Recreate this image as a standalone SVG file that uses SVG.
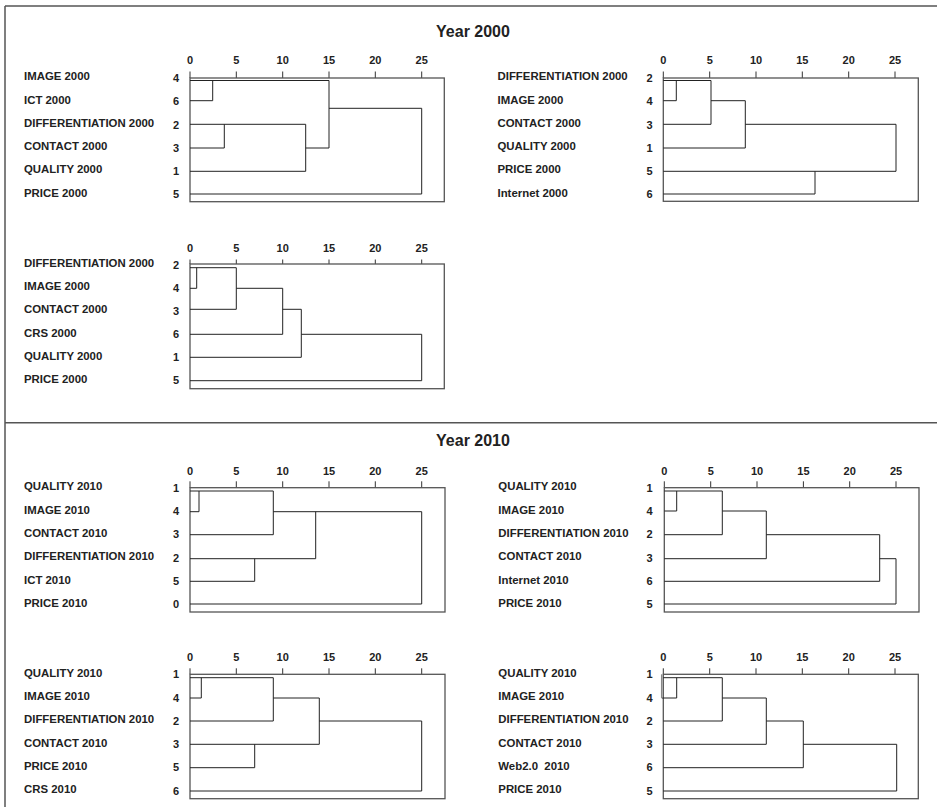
<svg xmlns="http://www.w3.org/2000/svg" width="937" height="812" viewBox="0 0 937 812">
<style>
text{font-family:"Liberation Sans",Arial,sans-serif;font-weight:bold;fill:#222}
.lbl{font-size:11.4px}
.num{font-size:11px;text-anchor:middle}
.ax{font-size:11px;text-anchor:middle}
.ttl{font-size:16px;text-anchor:middle}
.ln{stroke:#222;stroke-width:1;fill:none}
.box{stroke:#555;stroke-width:1.3;fill:none}
.tk{stroke:#333;stroke-width:1;fill:none}
.frame{stroke:#555;stroke-width:1.5;fill:none}
</style>
<rect width="937" height="812" fill="#fff"/>
<g id="frame">
<path class="frame" d="M5,6 H937 M5,6 V807 M5,422.7 H937"/>
</g>
<text class="ttl" x="473" y="37">Year 2000</text>
<text class="ttl" x="473" y="446">Year 2010</text>

<!-- Dendrogram 1 -->
<g id="d1">
<g class="labels">
<text class="lbl" x="24" y="80">IMAGE 2000</text>
<text class="lbl" x="24" y="104">ICT 2000</text>
<text class="lbl" x="24" y="127">DIFFERENTIATION 2000</text>
<text class="lbl" x="24" y="150">CONTACT 2000</text>
<text class="lbl" x="24" y="173">QUALITY 2000</text>
<text class="lbl" x="24" y="197">PRICE 2000</text>
<text class="num" x="176" y="81.5">4</text>
<text class="num" x="176" y="105">6</text>
<text class="num" x="176" y="128.5">2</text>
<text class="num" x="176" y="151.5">3</text>
<text class="num" x="176" y="174.5">1</text>
<text class="num" x="176" y="198">5</text>
<text class="ax" x="190" y="64">0</text>
<text class="ax" x="236.3" y="64">5</text>
<text class="ax" x="282.7" y="64">10</text>
<text class="ax" x="329" y="64">15</text>
<text class="ax" x="375.3" y="64">20</text>
<text class="ax" x="421.7" y="64">25</text>
</g>
<path class="tk" d="M190,71.5V78 M236.3,71.5V78 M282.7,71.5V78 M329,71.5V78 M375.3,71.5V78 M421.7,71.5V78"/>
<rect class="box" x="190" y="78" width="254.3" height="123.7"/>
<g id="d1-links">
<path class="ln" d="M190,80.5H329 M190,100.7H212.7 M212.7,80.5V100.7 M190,124.3H305.7 M190,148H224.3 M224.3,124.3V148 M190,171.3H305.7 M305.7,124.3V171.3 M305.7,148H329 M329,80.5V148 M329,108.3H421.7 M190,194H421.7 M421.7,108.3V194"/>
</g>
</g>

<!-- Dendrogram 2 -->
<g id="d2">
<g class="labels">
<text class="lbl" x="497.5" y="80">DIFFERENTIATION 2000</text>
<text class="lbl" x="497.5" y="104">IMAGE 2000</text>
<text class="lbl" x="497.5" y="127">CONTACT 2000</text>
<text class="lbl" x="497.5" y="150">QUALITY 2000</text>
<text class="lbl" x="497.5" y="173">PRICE 2000</text>
<text class="lbl" x="497.5" y="197">Internet 2000</text>
<text class="num" x="649.5" y="81.5">2</text>
<text class="num" x="649.5" y="105">4</text>
<text class="num" x="649.5" y="128.5">3</text>
<text class="num" x="649.5" y="151.5">1</text>
<text class="num" x="649.5" y="174.5">5</text>
<text class="num" x="649.5" y="198">6</text>
<text class="ax" x="663.3" y="64">0</text>
<text class="ax" x="709.7" y="64">5</text>
<text class="ax" x="756" y="64">10</text>
<text class="ax" x="802.3" y="64">15</text>
<text class="ax" x="848.7" y="64">20</text>
<text class="ax" x="895" y="64">25</text>
</g>
<path class="tk" d="M663.3,71.5V78 M709.7,71.5V78 M756,71.5V78 M802.3,71.5V78 M848.7,71.5V78 M895,71.5V78"/>
<rect class="box" x="663.3" y="78" width="255" height="123.3"/>
<g id="d2-links">
<path class="ln" d="M663.3,80.5H711 M663.3,100.7H676.3 M676.3,80.5V100.7 M663.3,124.3H711 M711,80.5V124.3 M711,100.7H745.3 M663.3,148H745.3 M745.3,100.7V148 M745.3,124.3H896 M663.3,171.3H896 M896,124.3V171.3 M663.3,194H815 M815,171.3V194"/>
</g>
</g>

<!-- Dendrogram 3 -->
<g id="d3">
<g class="labels">
<text class="lbl" x="24" y="267.3">DIFFERENTIATION 2000</text>
<text class="lbl" x="24" y="290">IMAGE 2000</text>
<text class="lbl" x="24" y="313">CONTACT 2000</text>
<text class="lbl" x="24" y="336.7">CRS 2000</text>
<text class="lbl" x="24" y="359.7">QUALITY 2000</text>
<text class="lbl" x="24" y="382.7">PRICE 2000</text>
<text class="num" x="176" y="268.5">2</text>
<text class="num" x="176" y="291.5">4</text>
<text class="num" x="176" y="314.5">3</text>
<text class="num" x="176" y="338">6</text>
<text class="num" x="176" y="361">1</text>
<text class="num" x="176" y="384">5</text>
<text class="ax" x="190" y="252.3">0</text>
<text class="ax" x="236.3" y="252.3">5</text>
<text class="ax" x="282.7" y="252.3">10</text>
<text class="ax" x="329" y="252.3">15</text>
<text class="ax" x="375.3" y="252.3">20</text>
<text class="ax" x="421.7" y="252.3">25</text>
</g>
<path class="tk" d="M190,259.5V264 M236.3,259.5V264 M282.7,259.5V264 M329,259.5V264 M375.3,259.5V264 M421.7,259.5V264"/>
<rect class="box" x="190" y="264" width="254.3" height="124.7"/>
<g id="d3-links">
<path class="ln" d="M190,267.7H236.3 M196.7,267.7V288.3 M190,288.3H196.7 M236.3,267.7V309.3 M190,309.3H236.3 M236.3,288.3H282.7 M190,334.3H282.7 M282.7,288.3V334.3 M282.7,309.3H301.3 M190,357.3H301.3 M301.3,309.3V357.3 M301.3,334.3H421.7 M190,380.7H421.7 M421.7,334.3V380.7"/>
</g>
</g>

<!-- Dendrogram 4 -->
<g id="d4">
<g class="labels">
<text class="lbl" x="24" y="490">QUALITY 2010</text>
<text class="lbl" x="24" y="514">IMAGE 2010</text>
<text class="lbl" x="24" y="536.7">CONTACT 2010</text>
<text class="lbl" x="24" y="559.7">DIFFERENTIATION 2010</text>
<text class="lbl" x="24" y="584">ICT 2010</text>
<text class="lbl" x="24" y="606.7">PRICE 2010</text>
<text class="num" x="176" y="491.5">1</text>
<text class="num" x="176" y="515">4</text>
<text class="num" x="176" y="538">3</text>
<text class="num" x="176" y="561.5">2</text>
<text class="num" x="176" y="584.5">5</text>
<text class="num" x="176" y="607.5">0</text>
<text class="ax" x="190" y="474.7">0</text>
<text class="ax" x="236.3" y="474.7">5</text>
<text class="ax" x="282.7" y="474.7">10</text>
<text class="ax" x="329" y="474.7">15</text>
<text class="ax" x="375.3" y="474.7">20</text>
<text class="ax" x="421.7" y="474.7">25</text>
</g>
<path class="tk" d="M190,481.3V487.7 M236.3,481.3V487.7 M282.7,481.3V487.7 M329,481.3V487.7 M375.3,481.3V487.7 M421.7,481.3V487.7"/>
<rect class="box" x="190" y="487.7" width="255" height="124.3"/>
<g id="d4-links">
<path class="ln" d="M190,491H273.3 M199,491V511.7 M190,511.7H199 M273.3,491V534.7 M190,534.7H273.3 M273.3,511.7H421.7 M315.7,511.7V558.7 M190,558.7H315.7 M190,581.3H254.7 M254.7,558.7V581.3 M190,604H421.7 M421.7,511.7V604"/>
</g>
</g>

<!-- Dendrogram 5 -->
<g id="d5">
<g class="labels">
<text class="lbl" x="498.3" y="490">QUALITY 2010</text>
<text class="lbl" x="498.3" y="514">IMAGE 2010</text>
<text class="lbl" x="498.3" y="536.7">DIFFERENTIATION 2010</text>
<text class="lbl" x="498.3" y="559.7">CONTACT 2010</text>
<text class="lbl" x="498.3" y="584">Internet 2010</text>
<text class="lbl" x="498.3" y="606.7">PRICE 2010</text>
<text class="num" x="649.5" y="491.5">1</text>
<text class="num" x="649.5" y="515">4</text>
<text class="num" x="649.5" y="538">2</text>
<text class="num" x="649.5" y="561.5">3</text>
<text class="num" x="649.5" y="584.5">6</text>
<text class="num" x="649.5" y="607.5">5</text>
<text class="ax" x="664.3" y="474.7">0</text>
<text class="ax" x="710.7" y="474.7">5</text>
<text class="ax" x="757" y="474.7">10</text>
<text class="ax" x="803.4" y="474.7">15</text>
<text class="ax" x="849.7" y="474.7">20</text>
<text class="ax" x="896" y="474.7">25</text>
</g>
<path class="tk" d="M664.3,481.3V487.7 M710.7,481.3V487.7 M757,481.3V487.7 M803.4,481.3V487.7 M849.7,481.3V487.7 M896,481.3V487.7"/>
<rect class="box" x="664.3" y="487.7" width="254.7" height="124.3"/>
<g id="d5-links">
<path class="ln" d="M664.3,491H722.3 M676.7,491V511 M664.3,511H676.7 M722.3,491V534.7 M664.3,534.7H722.3 M722.3,511H766.3 M664.3,558.7H766.3 M766.3,511V558.7 M766.3,534.7H879.7 M664.3,581.3H879.7 M879.7,534.7V581.3 M879.7,558.7H896 M664.3,604H896 M896,558.7V604"/>
</g>
</g>

<!-- Dendrogram 6 -->
<g id="d6">
<g class="labels">
<text class="lbl" x="24" y="676.7">QUALITY 2010</text>
<text class="lbl" x="24" y="700">IMAGE 2010</text>
<text class="lbl" x="24" y="723">DIFFERENTIATION 2010</text>
<text class="lbl" x="24" y="746.7">CONTACT 2010</text>
<text class="lbl" x="24" y="769.7">PRICE 2010</text>
<text class="lbl" x="24" y="793">CRS 2010</text>
<text class="num" x="176" y="678">1</text>
<text class="num" x="176" y="701.5">4</text>
<text class="num" x="176" y="724.5">2</text>
<text class="num" x="176" y="748">3</text>
<text class="num" x="176" y="771">5</text>
<text class="num" x="176" y="794.5">6</text>
<text class="ax" x="190" y="661.3">0</text>
<text class="ax" x="236.3" y="661.3">5</text>
<text class="ax" x="282.7" y="661.3">10</text>
<text class="ax" x="329" y="661.3">15</text>
<text class="ax" x="375.3" y="661.3">20</text>
<text class="ax" x="421.7" y="661.3">25</text>
</g>
<path class="tk" d="M190,668.3V674.3 M236.3,668.3V674.3 M282.7,668.3V674.3 M329,668.3V674.3 M375.3,668.3V674.3 M421.7,668.3V674.3"/>
<rect class="box" x="190" y="674.3" width="255" height="124.4"/>
<g id="d6-links">
<path class="ln" d="M190,677.7H273.3 M201.3,677.7V698 M190,698H201.3 M273.3,677.7V721 M190,721H273.3 M273.3,698H319.3 M319.3,698V744.3 M190,744.3H319.3 M190,767.7H254.7 M254.7,744.3V767.7 M319.3,721H421.7 M190,791H421.7 M421.7,721V791"/>
</g>
</g>

<!-- Dendrogram 7 -->
<g id="d7">
<g class="labels">
<text class="lbl" x="498.3" y="676.7">QUALITY 2010</text>
<text class="lbl" x="498.3" y="700">IMAGE 2010</text>
<text class="lbl" x="498.3" y="723">DIFFERENTIATION 2010</text>
<text class="lbl" x="498.3" y="746.7">CONTACT 2010</text>
<text class="lbl" x="498.3" y="769.7" style="white-space:pre">Web2.0  2010</text>
<text class="lbl" x="498.3" y="793">PRICE 2010</text>
<text class="num" x="649.5" y="678">1</text>
<text class="num" x="649.5" y="701.5">4</text>
<text class="num" x="649.5" y="724.5">2</text>
<text class="num" x="649.5" y="748">3</text>
<text class="num" x="649.5" y="771">6</text>
<text class="num" x="649.5" y="794.5">5</text>
<text class="ax" x="663.3" y="661.3">0</text>
<text class="ax" x="709.7" y="661.3">5</text>
<text class="ax" x="756" y="661.3">10</text>
<text class="ax" x="802.3" y="661.3">15</text>
<text class="ax" x="848.7" y="661.3">20</text>
<text class="ax" x="895" y="661.3">25</text>
</g>
<path class="tk" d="M663.3,668.3V674.3 M709.7,668.3V674.3 M756,668.3V674.3 M802.3,668.3V674.3 M848.7,668.3V674.3 M895,668.3V674.3"/>
<rect class="box" x="663.3" y="674.3" width="255" height="124.4"/>
<g id="d7-links">
<path class="ln" d="M663.3,677.7H722.3 M676.7,677.7V698 M661.7,698H676.7 M722.3,677.7V721 M663.3,721H722.3 M722.3,698H766.3 M766.3,698V744.3 M663.3,744.3H766.3 M766.3,721H803.3 M803.3,721V767.7 M663.3,767.7H803.3 M803.3,744.3H896.7 M663.3,791H896.7 M896.7,744.3V791"/>
<path d="M661.7,674.3V698" stroke="#888" stroke-width="1.5" fill="none"/>
</g>
</g>
</svg>
